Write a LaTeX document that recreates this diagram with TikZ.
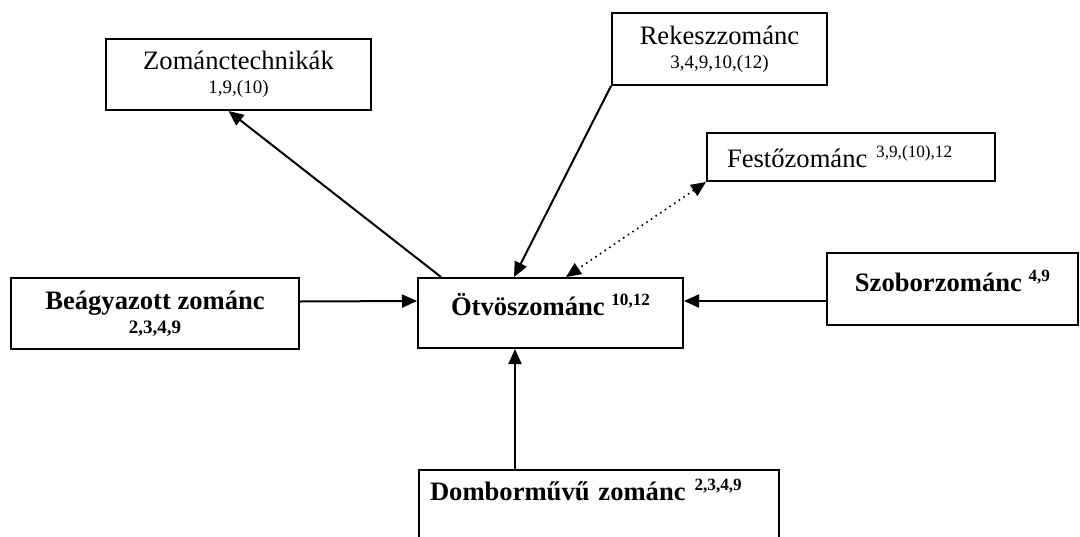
\documentclass[tikz,border=0pt]{standalone}
\usepackage{fontspec}
\setmainfont{Liberation Serif}
\usepackage{tikz}
\usetikzlibrary{arrows.meta,positioning,calc}
\newcommand{\upnum}[1]{\raisebox{4.7pt}{\fontsize{8.6}{9}\selectfont #1}}
\newcommand{\lownum}[1]{{\fontsize{9.5}{10}\selectfont #1}}

\begin{document}
\begin{tikzpicture}[x=0.5pt,y=-0.5pt,
    box/.style={draw,line width=1pt,inner sep=2pt,font=\fontsize{13.3}{14}\selectfont},
    topbox/.style={box,text height=10pt,text depth=8pt},
    arr/.style={-{Triangle[length=7.5pt,width=6.5pt]},line width=1pt}]
  \useasboundingbox (0,0) rectangle (1080,536);
  \clip (0,0) rectangle (1080,536);
  % boxes
  \node[box,minimum width=132.5pt,minimum height=35.5pt,align=center] (tech) at (238.5,74.5)
    {Zománctechnikák\\[-2pt]\lownum{1,9,(10)}};
  \node[box,minimum width=107.5pt,minimum height=36pt,align=center] (rek) at (719.5,49)
    {Rekeszzománc\\[-2pt]\lownum{3,4,9,10,(12)}};
  \node[box,minimum height=24pt,text width=124pt,inner xsep=10pt,align=left,
        text height=11pt,text depth=1pt] (fest) at (851,157)
    {Festőzománc \upnum{3,9,(10),12}};
  \node[box,minimum width=144pt,minimum height=35.5pt,align=center,font=\fontsize{13.3}{14}\selectfont\bfseries] (beag) at (155,313.5)
    {Beágyazott zománc\\[-2pt]\lownum{2,3,4,9}};
  \node[topbox,minimum width=132.5pt,minimum height=35pt,font=\fontsize{13.3}{14}\selectfont\bfseries] (otv) at (550.5,313)
    {Ötvöszománc \upnum{10,12}};
  \node[topbox,minimum width=125.5pt,minimum height=36pt,font=\fontsize{13.3}{14}\selectfont\bfseries] (szob) at (952.5,289)
    {Szoborzománc \upnum{4,9}};
  \node[box,minimum height=50pt,text width=169pt,inner xsep=5.5pt,align=left,
        text height=10pt,text depth=30pt,font=\fontsize{13.3}{14}\selectfont\bfseries] (domb) at (599,520)
    {Domborművű zománc \upnum{2,3,4,9}};
  % connectors
  \coordinate (otvbot) at ([xshift=-17.75pt]otv.south);
  \draw[arr] ([xshift=12pt]otv.north west) -- ([xshift=-5pt]tech.south);
  \draw[arr] (rek.south west) -- ([xshift=48.5pt]otv.north west);
  \draw[{Triangle[length=7.5pt,width=6.5pt]}-{Triangle[length=7.5pt,width=6.5pt]},dotted,line width=0.8pt]
    (fest.south west) -- ([xshift=74.5pt]otv.north west);
  \draw[arr] ([yshift=6pt]beag.east) -- ([yshift=6pt]otv.west);
  \draw[arr] ([yshift=-6pt]szob.west) -- ([yshift=6pt]otv.east);
  \draw[arr] (otvbot |- domb.north) -- (otvbot);
\end{tikzpicture}
\end{document}
